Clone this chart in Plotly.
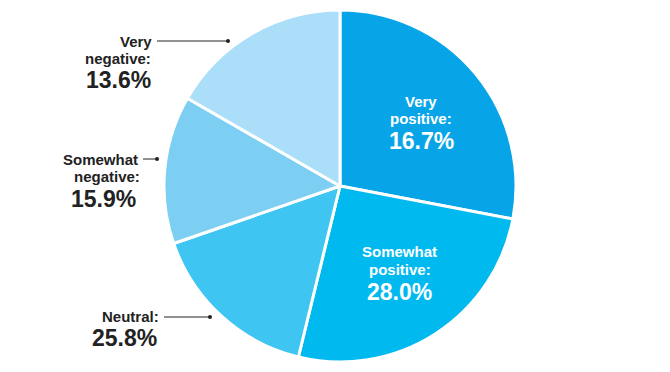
import plotly.graph_objects as go

# ---- data ----
categories = ["Very positive", "Somewhat positive", "Neutral", "Somewhat negative", "Very negative"]
label_lines = [["Very", "positive:"], ["Somewhat", "positive:"], ["Neutral:"], ["Somewhat", "negative:"], ["Very", "negative:"]]
shares = [16.7, 28.0, 25.8, 15.9, 13.6]
# the printed graphic draws the wedges offset by one position relative to their labels
drawn_shares = shares[1:] + shares[:1]
colors = ["#07a5e8", "#00b9ef", "#3ec5f1", "#7ccff3", "#abdef8"]

W, H = 670, 372
def fx(x):
    return x / W
def fy(y):
    return 1 - y / H

cx, cy, r = 340, 186, 176

fig = go.Figure(go.Pie(
    values=drawn_shares,
    labels=[f"w{i}" for i in range(len(drawn_shares))],
    sort=False,
    direction="clockwise",
    rotation=0,
    marker=dict(colors=colors, line=dict(color="white", width=3)),
    textinfo="none",
    hoverinfo="skip",
    showlegend=False,
    domain=dict(x=[fx(cx - r), fx(cx + r)], y=[fy(cy + r), fy(cy - r)]),
))

FONT = "Liberation Sans, Arial, Helvetica, sans-serif"
annotations = []
# layout: (anchor, x for label lines, y of label lines, x for pct, y of pct, colour)
placements = [
    ("center", [421, 421], [101.5, 119], 421, 141, "white"),
    ("center", [400, 400], [252, 269.5], 400, 291.5, "white"),
    ("right", [160], [316.5], 158, 338, "#222222"),
    ("right", [139, 141], [159, 176.5], 137, 198.5, "#222222"),
    ("right", [153, 152], [41, 58.5], 152, 80, "#222222"),
]
for lines, share, (anchor, lxs, lys, px_, py_, col) in zip(label_lines, shares, placements):
    for t, lx, ly in zip(lines, lxs, lys):
        annotations.append(dict(text=f"<b>{t}</b>", x=fx(lx), y=fy(ly), xref="paper", yref="paper",
                                xanchor=anchor, yanchor="middle", showarrow=False, borderpad=0,
                                font=dict(family=FONT, size=15, color=col)))
    annotations.append(dict(text=f"<b>{share:.1f}%</b>", x=fx(px_), y=fy(py_), xref="paper", yref="paper",
                            xanchor=anchor, yanchor="middle", showarrow=False, borderpad=0,
                            font=dict(family=FONT, size=23, color=col)))

# leader lines with dot ends
leaders = [(157, 228, 41), (143, 157, 159), (164, 210, 317)]
shapes = []
for x0, x1, y in leaders:
    shapes.append(dict(type="line", xref="paper", yref="paper", x0=fx(x0), x1=fx(x1), y0=fy(y), y1=fy(y),
                       line=dict(color="#222222", width=1)))
    shapes.append(dict(type="circle", xref="paper", yref="paper", x0=fx(x1 - 2), x1=fx(x1 + 2),
                       y0=fy(y + 2), y1=fy(y - 2), fillcolor="#222222", line=dict(width=0)))

fig.update_layout(
    width=W, height=H,
    margin=dict(l=0, r=0, t=0, b=0),
    paper_bgcolor="white", plot_bgcolor="white",
    annotations=annotations, shapes=shapes,
)
fig.write_html("out.html", config={"displayModeBar": False},
               post_script="document.body.style.margin='0';")
